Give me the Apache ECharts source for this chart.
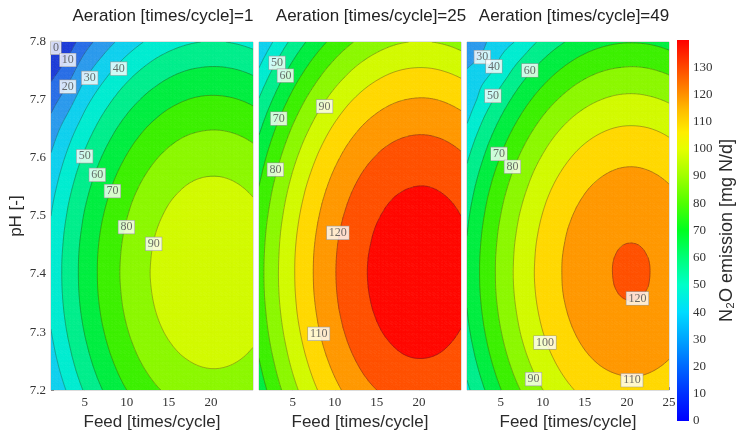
<!DOCTYPE html>
<html>
<head>
<meta charset="utf-8">
<script src="https://cdn.jsdelivr.net/npm/echarts@6/dist/echarts.min.js"></script>
<style>
html,body{margin:0;padding:0;background:#fff;}
#chart{width:741px;height:436px;}
</style>
</head>
<body>
<div id="chart"></div>
<script>
// ---------------- data ----------------
const panelTitles = ['Aeration [times/cycle]=1', 'Aeration [times/cycle]=25', 'Aeration [times/cycle]=49'];
const feedValues = [1, 3, 5, 7, 9, 11, 13, 15, 17, 19, 21, 23, 25];
const pHValues = [7.2, 7.225, 7.25, 7.275, 7.3, 7.325, 7.35, 7.375, 7.4, 7.425, 7.45, 7.475, 7.5,
  7.525, 7.55, 7.575, 7.6, 7.625, 7.65, 7.675, 7.7, 7.725, 7.75, 7.775, 7.8];

// N2O emission [mg N/d]; one row per pH value (bottom to top), one column per feed value
const emissionAeration1 = [
  [30.3,41.2,51.0,59.5,66.8,72.9,77.9,81.6,84.2,85.6,85.8,84.7,82.5],
  [33.2,44.2,53.9,62.4,69.7,75.9,80.8,84.6,87.1,88.5,88.7,87.7,85.5],
  [35.8,46.7,56.4,64.9,72.2,78.4,83.3,87.1,89.6,91.0,91.2,90.2,88.0],
  [37.9,48.8,58.5,67.0,74.4,80.5,85.5,89.2,91.8,93.2,93.3,92.3,90.1],
  [39.7,50.6,60.3,68.8,76.1,82.3,87.2,91.0,93.5,94.9,95.1,94.1,91.9],
  [41.0,52.0,61.7,70.2,77.5,83.7,88.6,92.4,94.9,96.3,96.5,95.5,93.3],
  [42.0,53.0,62.7,71.2,78.5,84.7,89.6,93.4,95.9,97.3,97.5,96.5,94.3],
  [42.7,53.6,63.3,71.8,79.1,85.3,90.2,94.0,96.5,97.9,98.1,97.1,94.9],
  [42.9,53.8,63.5,72.0,79.4,85.5,90.5,94.2,96.8,98.2,98.3,97.3,95.1],
  [42.8,53.7,63.4,71.9,79.2,85.4,90.3,94.1,96.6,98.0,98.2,97.2,95.0],
  [42.2,53.1,62.9,71.4,78.7,84.8,89.8,93.5,96.1,97.5,97.7,96.6,94.4],
  [41.3,52.2,61.9,70.5,77.8,83.9,88.9,92.6,95.2,96.6,96.8,95.7,93.5],
  [40.0,50.9,60.7,69.2,76.5,82.6,87.6,91.3,93.9,95.3,95.5,94.4,92.2],
  [38.4,49.3,59.0,67.5,74.8,81.0,85.9,89.7,92.2,93.6,93.8,92.8,90.6],
  [36.3,47.2,56.9,65.5,72.8,78.9,83.9,87.6,90.2,91.6,91.7,90.7,88.5],
  [33.9,44.8,54.5,63.0,70.4,76.5,81.4,85.2,87.8,89.1,89.3,88.3,86.1],
  [31.1,42.0,51.7,60.2,67.5,73.7,78.6,82.4,84.9,86.3,86.5,85.5,83.3],
  [27.9,38.8,48.5,57.0,64.3,70.5,75.4,79.2,81.8,83.1,83.3,82.3,80.1],
  [24.3,35.2,44.9,53.4,60.8,66.9,71.9,75.6,78.2,79.5,79.7,78.7,76.5],
  [20.3,30.5,41.0,49.5,56.8,63.0,67.9,71.7,74.2,75.6,75.8,74.8,72.6],
  [16.0,25.6,36.6,45.1,52.5,58.6,63.6,67.3,69.9,71.3,71.4,70.4,68.2],
  [11.3,20.4,31.9,40.4,47.8,53.9,58.8,62.6,65.2,66.5,66.7,65.7,63.5],
  [6.2,15.3,26.8,35.3,42.7,48.8,53.7,57.5,60.1,61.4,61.6,60.6,58.4],
  [0.7,9.8,21.3,29.8,37.2,43.3,48.3,52.0,54.6,55.9,56.1,55.1,52.9],
  [-5.2,4.5,15.5,24.0,31.3,37.4,42.4,46.1,48.7,50.1,50.3,49.2,47.0]
];
const emissionAeration25 = [
  [64.3,76.2,86.8,96.0,104.0,110.6,116.0,120.0,122.8,124.2,124.3,123.2,120.7],
  [67.1,79.0,89.6,98.8,106.8,113.4,118.8,122.8,125.6,127.0,127.1,125.9,123.5],
  [69.6,81.4,92.0,101.2,109.2,115.8,121.2,125.2,128.0,129.4,129.5,128.4,125.9],
  [71.6,83.5,94.0,103.3,111.3,117.9,123.3,127.3,130.0,131.5,131.6,130.4,127.9],
  [73.3,85.2,95.7,105.0,112.9,119.6,124.9,129.0,131.7,133.2,133.3,132.1,129.6],
  [74.6,86.5,97.1,106.3,114.3,120.9,126.3,130.3,133.1,134.5,134.6,133.4,131.0],
  [75.6,87.5,98.0,107.3,115.2,121.9,127.2,131.3,134.0,135.5,135.6,134.4,131.9],
  [76.2,88.1,98.6,107.9,115.8,122.5,127.8,131.9,134.6,136.0,136.2,135.0,132.5],
  [76.4,88.3,98.8,108.1,116.1,122.7,128.1,132.1,134.8,136.3,136.4,135.2,132.7],
  [76.3,88.1,98.7,108.0,115.9,122.6,127.9,132.0,134.7,136.1,136.3,135.1,132.6],
  [75.8,87.6,98.2,107.5,115.4,122.1,127.4,131.4,134.2,135.6,135.8,134.6,132.1],
  [74.9,86.8,97.3,106.6,114.5,121.2,126.5,130.6,133.3,134.8,134.9,133.7,131.2],
  [73.7,85.5,96.1,105.3,113.3,119.9,125.3,129.3,132.1,133.5,133.6,132.5,130.0],
  [72.1,83.9,94.5,103.7,111.7,118.3,123.7,127.7,130.5,131.9,132.0,130.9,128.4],
  [70.1,82.0,92.5,101.8,109.7,116.4,121.7,125.8,128.5,129.9,130.1,128.9,126.4],
  [67.7,79.6,90.2,99.4,107.4,114.0,119.4,123.4,126.2,127.6,127.7,126.6,124.1],
  [65.0,76.9,87.5,96.7,104.7,111.3,116.7,120.7,123.5,124.9,125.0,123.9,121.4],
  [62.0,73.8,84.4,93.7,101.6,108.3,113.6,117.7,120.4,121.8,122.0,120.8,118.3],
  [58.5,70.4,81.0,90.2,98.2,104.8,110.2,114.2,117.0,118.4,118.5,117.3,114.9],
  [54.7,66.6,77.2,86.4,94.4,101.0,106.4,110.4,113.2,114.6,114.7,113.5,111.1],
  [50.6,62.4,73.0,82.3,90.2,96.9,102.2,106.2,109.0,110.4,110.6,109.4,106.9],
  [46.0,57.9,68.5,77.7,85.7,92.3,97.7,101.7,104.5,105.9,106.0,104.8,102.4],
  [41.1,53.0,63.6,72.8,80.8,87.4,92.8,96.8,99.6,101.0,101.1,99.9,97.5],
  [35.9,47.7,58.3,67.6,75.5,82.2,87.5,91.5,94.3,95.7,95.9,94.7,92.2],
  [30.2,42.1,52.7,61.9,69.9,76.5,81.9,85.9,88.7,90.1,90.2,89.0,86.6]
];
const emissionAeration49 = [
  [47.8,59.3,69.6,78.6,86.4,93.0,98.3,102.4,105.2,106.7,107.0,106.1,103.9],
  [50.9,62.4,72.7,81.8,89.6,96.1,101.4,105.5,108.3,109.8,110.2,109.2,107.0],
  [53.6,65.1,75.4,84.5,92.3,98.8,104.1,108.2,111.0,112.5,112.9,111.9,109.7],
  [55.9,67.4,77.7,86.8,94.6,101.1,106.4,110.5,113.3,114.8,115.2,114.2,112.0],
  [57.8,69.3,79.6,88.7,96.5,103.0,108.3,112.4,115.2,116.7,117.0,116.1,113.9],
  [59.3,70.8,81.1,90.1,97.9,104.5,109.8,113.9,116.7,118.2,118.5,117.6,115.4],
  [60.3,71.9,82.2,91.2,99.0,105.6,110.9,114.9,117.9,119.5,119.8,118.9,116.5],
  [61.0,72.6,82.9,91.9,99.7,106.3,111.6,115.6,118.6,120.2,120.5,119.6,117.2],
  [61.3,72.8,83.1,92.2,100.0,106.5,111.8,115.9,118.9,120.4,120.8,119.8,117.4],
  [61.1,72.7,83.0,92.0,99.8,106.4,111.7,115.7,118.8,120.3,120.6,119.7,117.3],
  [60.6,72.1,82.4,91.5,99.3,105.8,111.1,115.2,118.2,119.8,120.1,119.1,116.8],
  [59.6,71.2,81.5,90.5,98.3,104.9,110.2,114.2,117.1,118.6,118.9,118.0,115.8],
  [58.3,69.8,80.1,89.2,97.0,103.5,108.8,112.9,115.7,117.3,117.6,116.6,114.4],
  [56.5,68.1,78.4,87.4,95.2,101.8,107.1,111.1,113.9,115.5,115.8,114.9,112.7],
  [54.4,65.9,76.2,85.2,93.0,99.6,104.9,109.0,111.8,113.3,113.6,112.7,110.5],
  [51.8,63.3,73.6,82.7,90.5,97.0,102.3,106.4,109.2,110.8,111.1,110.1,107.9],
  [48.8,60.3,70.6,79.7,87.5,94.0,99.3,103.4,106.2,107.8,108.1,107.1,105.0],
  [45.4,57.0,67.3,76.3,84.1,90.7,96.0,100.0,102.8,104.4,104.7,103.8,101.6],
  [41.6,53.2,63.5,72.5,80.3,86.9,92.2,96.2,99.0,100.6,100.9,100.0,97.8],
  [37.4,49.0,59.3,68.3,76.1,82.7,88.0,92.0,94.8,96.4,96.7,95.8,93.6],
  [34.5,44.3,54.6,63.7,71.5,78.0,83.3,87.4,90.2,91.8,92.1,91.1,89.0],
  [33.0,41.0,49.6,58.7,66.5,73.0,78.3,82.4,85.2,86.8,87.1,86.1,84.0],
  [30.5,36.0,44.2,53.3,61.1,67.6,72.9,77.0,79.8,81.3,81.7,80.7,78.5],
  [27.0,31.5,40.0,47.4,55.2,61.8,67.1,71.2,74.0,75.5,75.8,74.9,72.7],
  [24.0,29.0,35.5,41.2,49.0,55.6,60.9,64.9,67.7,69.3,69.6,68.7,66.5]
];

// contour label boxes: [feed, pH, text]
const contourLabelsAeration1 = [[1.6,7.79,'0'],[3.0,7.769,'10'],[3.0,7.723,'20'],[5.6,7.738,'30'],[9.05,7.754,'40'],
  [5.0,7.603,'50'],[6.5,7.571,'60'],[8.3,7.543,'70'],[9.96,7.481,'80'],[13.2,7.452,'90']];
const contourLabelsAeration25 = [[3.15,7.764,'50'],[4.14,7.742,'60'],[3.35,7.668,'70'],[2.95,7.580,'80'],
  [8.79,7.689,'90'],[10.37,7.471,'120'],[8.1,7.297,'110']];
const contourLabelsAeration49 = [[2.82,7.774,'30'],[4.2,7.758,'40'],[4.08,7.707,'50'],[8.47,7.751,'60'],
  [4.8,7.607,'70'],[6.4,7.585,'80'],[21.25,7.358,'120'],[10.26,7.282,'100'],[8.9,7.219,'90'],[20.6,7.217,'110']];

const contourStep = 10;
// fill colour of each 10-unit band, starting at 0
const bandColors = ['#1e3cd7','#2a6ee6','#2c9aec','#10d0ee','#00ecd0','#00ee8c','#00ee40',
  '#3cf000','#8cf800','#d2fa00','#ffd800','#ff9800','#ff5000','#ff0800'];
// colour bar: [value, colour]
const colorbarStops = [[0,'#0000ff'],[10,'#0030ff'],[20,'#0068ff'],[30,'#00a4ff'],[40,'#00dcff'],
  [50,'#00ffc8'],[60,'#00ff78'],[70,'#00ff20'],[80,'#50ff00'],[90,'#a0ff00'],[100,'#e6ff00'],
  [106,'#ffee00'],[114,'#ffbe00'],[122,'#ff8200'],[131,'#ff4000'],[140,'#ff0000']];
const colorbarMax = 140;
const colorbarTicks = [0,10,20,30,40,50,60,70,80,90,100,110,120,130];
const feedTicksInner = [5,10,15,20];
const feedTicksLast = [5,10,15,20,25];
const pHTicks = [7.2,7.3,7.4,7.5,7.6,7.7,7.8];
const colorbarTitle = 'N\u2082O emission [mg N/d]';
const feedTitle = 'Feed [times/cycle]';
const pHTitle = 'pH [-]';

// ---------------- chart ----------------
const SANS = "'Liberation Sans', Arial, Helvetica, sans-serif";
const SERIF = "'Liberation Serif', 'Times New Roman', serif";
const SUB = 4; // drawing subdivisions per grid cell (smooth contour rendering)

function bandColor(k) {
  return bandColors[Math.max(0, Math.min(bandColors.length - 1, k))];
}
function nudge(v) { return (Math.abs(v % contourStep) < 1e-9) ? v + 1e-6 : v; }

function clipPoly(poly, level, keepAbove) {
  const out = [];
  for (let i = 0; i < poly.length; i++) {
    const a = poly[i], b = poly[(i + 1) % poly.length];
    const ina = keepAbove ? a[2] >= level : a[2] <= level;
    const inb = keepAbove ? b[2] >= level : b[2] <= level;
    if (ina) out.push(a);
    if (ina !== inb) {
      const t = (level - a[2]) / (b[2] - a[2]);
      out.push([a[0] + t * (b[0] - a[0]), a[1] + t * (b[1] - a[1]), level]);
    }
  }
  return out;
}

// smooth (cubic convolution) sampling of a value grid, used only for drawing the contours
function makeSampler(grid) {
  const ny = grid.length, nx = grid[0].length;
  function g(j, i) {
    if (i < 0) return 3 * g(j, 0) - 3 * g(j, 1) + g(j, 2);
    if (i > nx - 1) return 3 * g(j, nx - 1) - 3 * g(j, nx - 2) + g(j, nx - 3);
    if (j < 0) return 3 * g(0, i) - 3 * g(1, i) + g(2, i);
    if (j > ny - 1) return 3 * g(ny - 1, i) - 3 * g(ny - 2, i) + g(ny - 3, i);
    return grid[j][i];
  }
  function cr(p0, p1, p2, p3, t) {
    return 0.5 * (2 * p1 + (p2 - p0) * t + (2 * p0 - 5 * p1 + 4 * p2 - p3) * t * t +
      (3 * p1 - p0 - 3 * p2 + p3) * t * t * t);
  }
  return function (i, j, u, w) {
    const r = [];
    for (let dj = -1; dj <= 2; dj++) {
      r.push(cr(g(j + dj, i - 1), g(j + dj, i), g(j + dj, i + 1), g(j + dj, i + 2), u));
    }
    return cr(r[0], r[1], r[2], r[3], w);
  };
}

function cellsOf(grid) {
  const out = [];
  for (let j = 0; j < pHValues.length - 1; j++) {
    for (let i = 0; i < feedValues.length - 1; i++) {
      out.push([feedValues[i], feedValues[i + 1], pHValues[j], pHValues[j + 1], i, j]);
    }
  }
  return out;
}

function makeRenderer(sample) {
  return function (params, api) {
    const x0 = api.value(0), x1 = api.value(1), y0 = api.value(2), y1 = api.value(3);
    const ci = api.value(4), cj = api.value(5);
    function pt(u, w) {
      return [x0 + u * (x1 - x0), y0 + w * (y1 - y0), nudge(sample(ci, cj, u, w))];
    }
    const fills = [], lines = [];
    for (let si = 0; si < SUB; si++) {
      for (let sj = 0; sj < SUB; sj++) {
        const a = pt(si / SUB, sj / SUB), b = pt((si + 1) / SUB, sj / SUB);
        const c = pt(si / SUB, (sj + 1) / SUB), d = pt((si + 1) / SUB, (sj + 1) / SUB);
        [[a, b, d], [a, d, c]].forEach(function (t) {
          const vs = t.map(p => p[2]);
          const vmin = Math.min.apply(null, vs), vmax = Math.max.apply(null, vs);
          const kLo = Math.floor(vmin / contourStep), kHi = Math.floor(vmax / contourStep);
          for (let k = kLo; k <= kHi; k++) {
            let poly = clipPoly(t, k * contourStep, true);
            if (poly.length >= 3) poly = clipPoly(poly, (k + 1) * contourStep, false);
            if (poly.length >= 3) {
              const col = bandColor(k);
              fills.push({
                type: 'polygon',
                shape: { points: poly.map(p => api.coord([p[0], p[1]])) },
                style: { fill: col, stroke: col, lineWidth: 0.8 }
              });
            }
          }
          for (let k = Math.ceil(vmin / contourStep); k * contourStep <= vmax; k++) {
            const L = k * contourStep, seg = [];
            for (let e = 0; e < 3; e++) {
              const p = t[e], q = t[(e + 1) % 3];
              if ((p[2] - L) * (q[2] - L) < 0) {
                const s = (L - p[2]) / (q[2] - p[2]);
                seg.push([p[0] + s * (q[0] - p[0]), p[1] + s * (q[1] - p[1])]);
              }
            }
            if (seg.length === 2) {
              lines.push({
                type: 'polyline',
                shape: { points: [api.coord(seg[0]), api.coord(seg[1])] },
                style: { fill: null, stroke: 'rgba(45,45,45,0.6)', lineWidth: 0.6 },
                z2: 5
              });
            }
          }
        });
      }
    }
    return { type: 'group', children: fills.concat(lines) };
  };
}

const panels = [
  { grid: emissionAeration1, labels: contourLabelsAeration1, left: 51, ticks: feedTicksInner },
  { grid: emissionAeration25, labels: contourLabelsAeration25, left: 259, ticks: feedTicksInner },
  { grid: emissionAeration49, labels: contourLabelsAeration49, left: 467, ticks: feedTicksLast }
];
const titleCenters = [158, 366, 569];

const grids = [], xAxes = [], yAxes = [], series = [], titles = [];
panels.forEach(function (p, i) {
  grids.push({ left: p.left, top: 42, width: 202, height: 350, show: true,
    borderColor: '#c4c4c4', borderWidth: 1, backgroundColor: 'transparent' });
  xAxes.push({
    type: 'value', gridIndex: i, min: 1, max: 25,
    name: feedTitle, nameLocation: 'middle', nameGap: 22,
    nameTextStyle: { fontFamily: SANS, fontSize: 17, color: '#2b2b2b' },
    axisLine: { show: false },
    axisTick: { show: true, inside: true, length: 3, customValues: p.ticks, lineStyle: { color: '#888' } },
    axisLabel: { customValues: p.ticks, fontFamily: SERIF, fontSize: 13, color: '#333', margin: 6 },
    splitLine: { show: false }
  });
  yAxes.push({
    type: 'value', gridIndex: i, min: 7.2, max: 7.8,
    name: i === 0 ? pHTitle : '', nameLocation: 'middle', nameGap: 26,
    nameTextStyle: { fontFamily: SANS, fontSize: 17, color: '#2b2b2b' },
    axisLine: { show: false },
    axisTick: { show: i === 0, inside: true, length: 3, customValues: pHTicks, lineStyle: { color: '#888' } },
    axisLabel: { show: i === 0, customValues: pHTicks, formatter: v => v.toFixed(1),
      fontFamily: SERIF, fontSize: 13, color: '#333', margin: 5 },
    splitLine: { show: false }
  });
  series.push({
    type: 'custom', xAxisIndex: i, yAxisIndex: i, data: cellsOf(p.grid),
    encode: { x: [0, 1], y: [2, 3] }, renderItem: makeRenderer(makeSampler(p.grid)),
    clip: true, silent: true, z: 1
  });
  series.push({
    type: 'scatter', xAxisIndex: i, yAxisIndex: i, data: p.labels, symbolSize: 1, silent: true, z: 5,
    itemStyle: { color: 'transparent' },
    label: {
      show: true, position: 'inside', formatter: q => q.value[2],
      fontFamily: SERIF, fontSize: 12, color: '#4a4a4a',
      backgroundColor: '#ffffff', borderColor: '#9a9a9a', borderWidth: 0.6, padding: [1, 2, 0, 2]
    }
  });
  titles.push({ text: panelTitles[i], left: titleCenters[i], top: 3, textAlign: 'center',
    textStyle: { fontFamily: SANS, fontSize: 17, fontWeight: 'normal', color: '#222' } });
});

// colour bar
grids.push({ left: 677, top: 40, width: 12, height: 381 });
xAxes.push({ type: 'category', gridIndex: 3, data: ['bar'], show: false });
yAxes.push({
  type: 'value', gridIndex: 3, position: 'right', min: 0, max: colorbarMax,
  name: colorbarTitle, nameLocation: 'middle', nameRotate: 90, nameGap: 29,
  nameTextStyle: { fontFamily: SANS, fontSize: 18, color: '#2b2b2b' },
  axisLine: { show: false }, axisTick: { show: false }, splitLine: { show: false },
  axisLabel: { customValues: colorbarTicks, fontFamily: SERIF, fontSize: 13, color: '#333', margin: 4 }
});
series.push({
  type: 'bar', xAxisIndex: 3, yAxisIndex: 3, data: [colorbarMax], barWidth: '100%', silent: true,
  itemStyle: {
    color: new echarts.graphic.LinearGradient(0, 1, 0, 0,
      colorbarStops.map(s => ({ offset: s[0] / colorbarMax, color: s[1] })))
  }
});

const chart = echarts.init(document.getElementById('chart'), null, { renderer: 'canvas' });
chart.setOption({
  animation: false,
  backgroundColor: '#ffffff',
  title: titles,
  grid: grids,
  xAxis: xAxes,
  yAxis: yAxes,
  series: series
});
</script>
</body>
</html>
